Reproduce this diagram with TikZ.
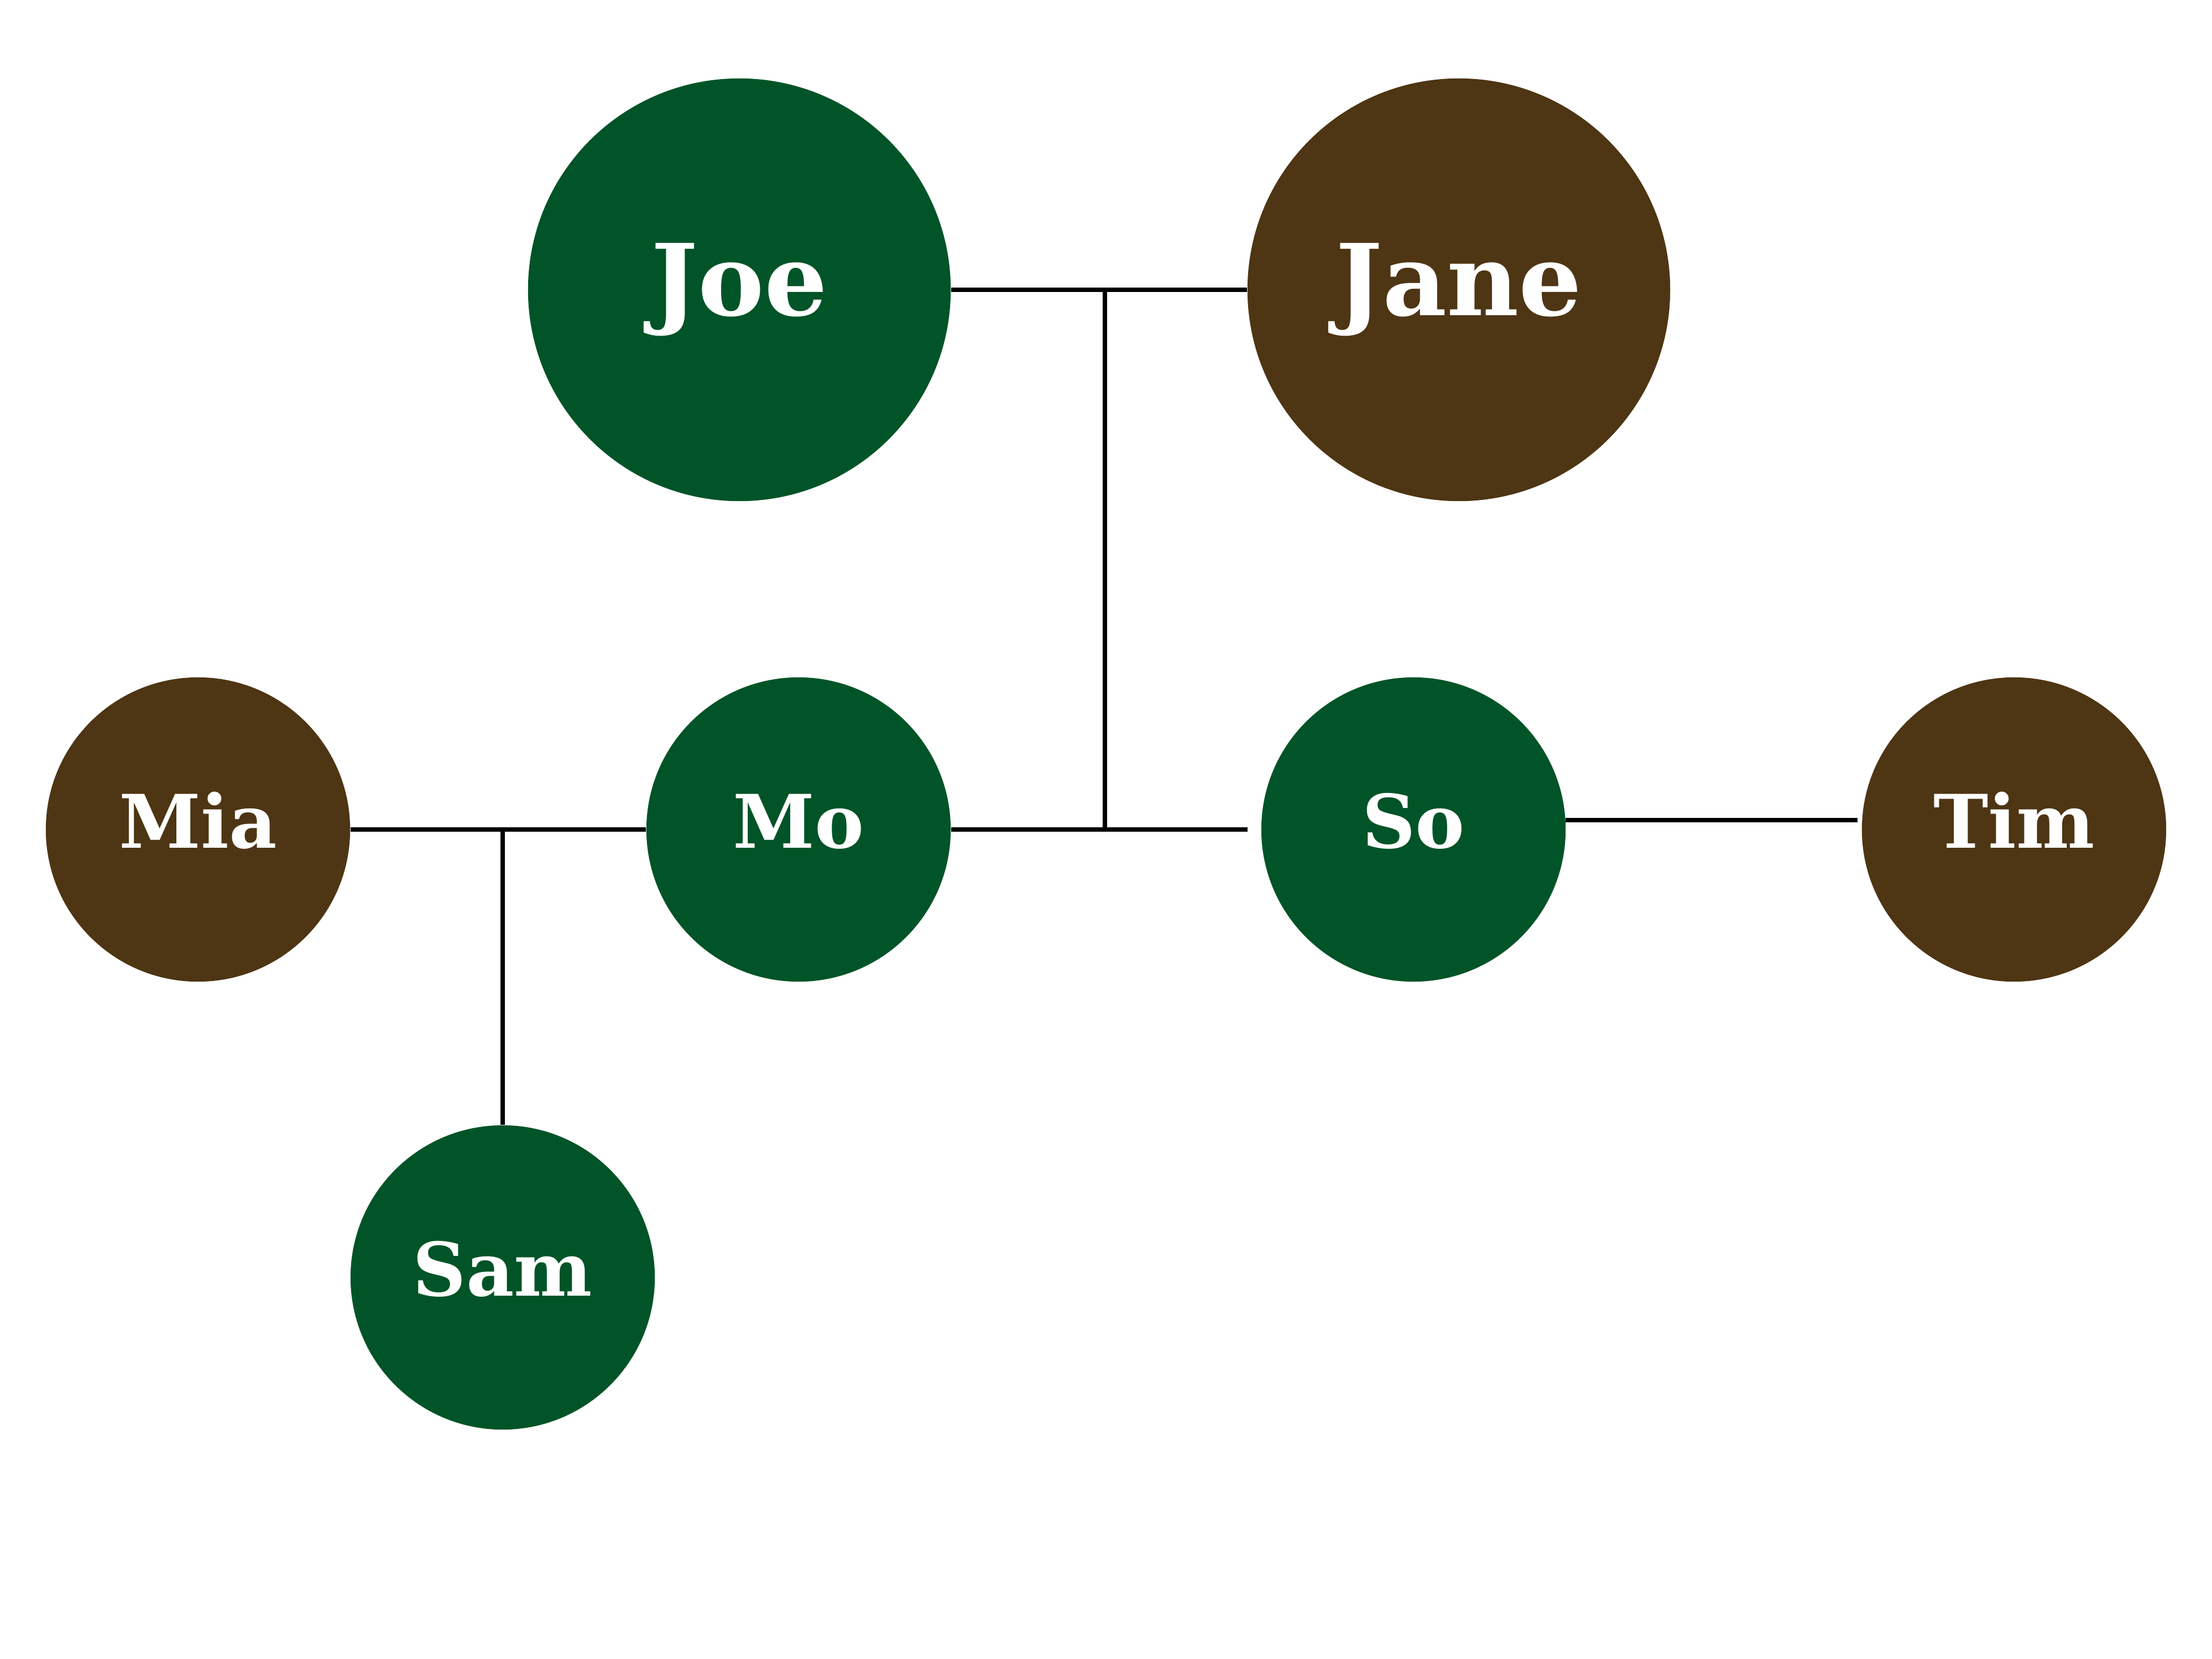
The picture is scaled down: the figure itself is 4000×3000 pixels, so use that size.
\documentclass[tikz,border=0pt]{standalone}
\usepackage{fontspec}
\setmainfont{DejaVu Serif}
\definecolor{treegreen}{HTML}{015427}
\definecolor{treebrown}{HTML}{4E3513}
\tikzset{
  person/.style={circle, inner sep=0pt, text=white, font=\bfseries},
  big/.style={person, minimum size=7.64cm, font=\bfseries\fontsize{51}{60}\selectfont, text height=1.31cm, text depth=0.39cm},
  small/.style={person, minimum size=5.5cm, font=\bfseries\fontsize{38}{46}\selectfont, text height=0.97cm, text depth=0.31cm},
  green/.style={fill=treegreen},
  brown/.style={fill=treebrown},
  link/.style={draw=black, line width=0.08cm}
}
\begin{document}
\begin{tikzpicture}[x=0.01cm, y=-0.01cm]
\path[use as bounding box, fill=white] (0,0) rectangle (4000,3000);
% nodes
\node[big, green] (joe) at (1337,524) {Joe};
\node[big, brown] (jane) at (2638,524) {Jane};
\node[small, brown] (mia) at (358,1500) {Mia};
\node[small, green] (mo) at (1444,1500) {Mo};
\node[small, green] (so) at (2556,1500) {So};
\node[small, brown] (tim) at (3642,1500) {Tim};
\node[small, green] (sam) at (909,2310) {Sam};
% junction coordinates
\coordinate (jj) at (1998,524);
\coordinate (soend) at (2256,1500);
\coordinate (ms) at (909,1500);
\coordinate (st1) at (2831,1483);
\coordinate (st2) at (3359,1483);
% connectors
\draw[link] (joe.east) -- (jane.west);
\draw[link] (jj) -- (jj |- mo.east);
\draw[link] (mo.east) -- (soend);
\draw[link] (mia.east) -- (mo.west);
\draw[link] (ms) -- (sam.north);
\draw[link] (st1) -- (st2);
\end{tikzpicture}
\end{document}
